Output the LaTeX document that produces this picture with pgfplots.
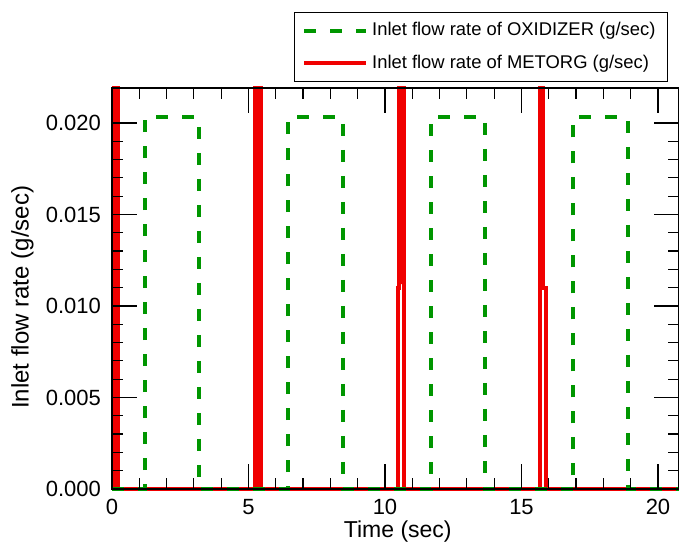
\documentclass[border=0pt]{standalone}
\usepackage{fontspec}
\setmainfont{Liberation Sans}
\usepackage{pgfplots}
\pgfplotsset{compat=1.18}

\definecolor{oxgreen}{RGB}{0,150,0}
\definecolor{metred}{RGB}{240,0,0}

% oxidizer pulses (g/sec)
\pgfplotstableread{
t q
0.00 0
1.21 0
1.21 0.0203
3.19 0.0203
3.19 0
6.45 0
6.45 0.0203
8.46 0.0203
8.46 0
11.68 0
11.68 0.0203
13.66 0.0203
13.66 0
16.89 0
16.89 0.0203
18.90 0.0203
18.90 0
20.77 0
}\oxidizer

% metorg pulses, tops run off the scale
\pgfplotstableread{
t q
0.07 0
0.07 0.0219
0.22 0.0219
0.22 0
5.23 0
5.23 0.0219
5.30 0.0219
5.30 0
5.38 0
5.38 0.0219
5.46 0.0219
5.46 0
10.48 0
10.48 0.011
10.51 0.011
10.51 0.0219
10.60 0.0219
10.60 0.0112
10.60 0.0219
10.70 0.0219
10.70 0
15.68 0
15.68 0.0219
15.78 0.0219
15.78 0.011
15.90 0.011
15.90 0
20.77 0
}\metorg

\begin{document}
\begin{tikzpicture}
\path[use as bounding box] (-56pt,-28pt) rectangle (283.5pt,244.5pt);
\begin{axis}[
    at={(0pt,0pt)}, anchor=south west,
    scale only axis,
    width=283.5pt, height=200.5pt,
    xmin=0, xmax=20.77,
    ymin=0, ymax=0.02191,
    clip=false,
    axis on top,
    axis line style={line width=0.8pt},
    xtick={0,5,10,15,20},
    ytick={0,0.005,0.01,0.015,0.02},
    minor x tick num=4,
    minor y tick num=4,
    tick align=inside,
    major tick length=12.5pt,
    minor tick length=5.5pt,
    every tick/.style={black, line width=0.6pt},
    scaled y ticks=false,
    /pgf/number format/assume math mode=true,
    yticklabel style={/pgf/number format/fixed, /pgf/number format/fixed zerofill, /pgf/number format/precision=3, xshift=-2pt},
    ticklabel style={font=\fontsize{11}{13}\selectfont},
    xticklabel style={yshift=-1.5pt},
    xlabel={Time (sec)},
    ylabel={Inlet flow rate (g/sec)},
    xlabel style={font=\fontsize{11.5}{13}\selectfont, at={(axis description cs:0.504,-0.105)}, anchor=center},
    ylabel style={font=\fontsize{12}{14}\selectfont, at={(axis description cs:-0.158,0.478)}, anchor=center},
    reverse legend,
    legend cell align=left,
    legend style={
        at={(rel axis cs:0.9806,1.1895)}, anchor=north east,
        draw=black, line width=0.6pt,
        font=\fontsize{9.2}{11}\selectfont,
        inner xsep=4pt, inner ysep=3pt,
        row sep=4pt,
    },
    legend image code/.code={\draw[#1] (0pt,0pt) -- (31pt,0pt);},
]
\addplot[metred, line width=2pt, line join=miter] table[x=t, y=q] {\metorg};
\addlegendentry{Inlet flow rate of METORG (g/sec)}
\addplot[oxgreen, line width=2pt, dash pattern=on 6pt off 7pt] table[x=t, y=q] {\oxidizer};
\addlegendentry{Inlet flow rate of OXIDIZER (g/sec)}
\end{axis}
\end{tikzpicture}
\end{document}
